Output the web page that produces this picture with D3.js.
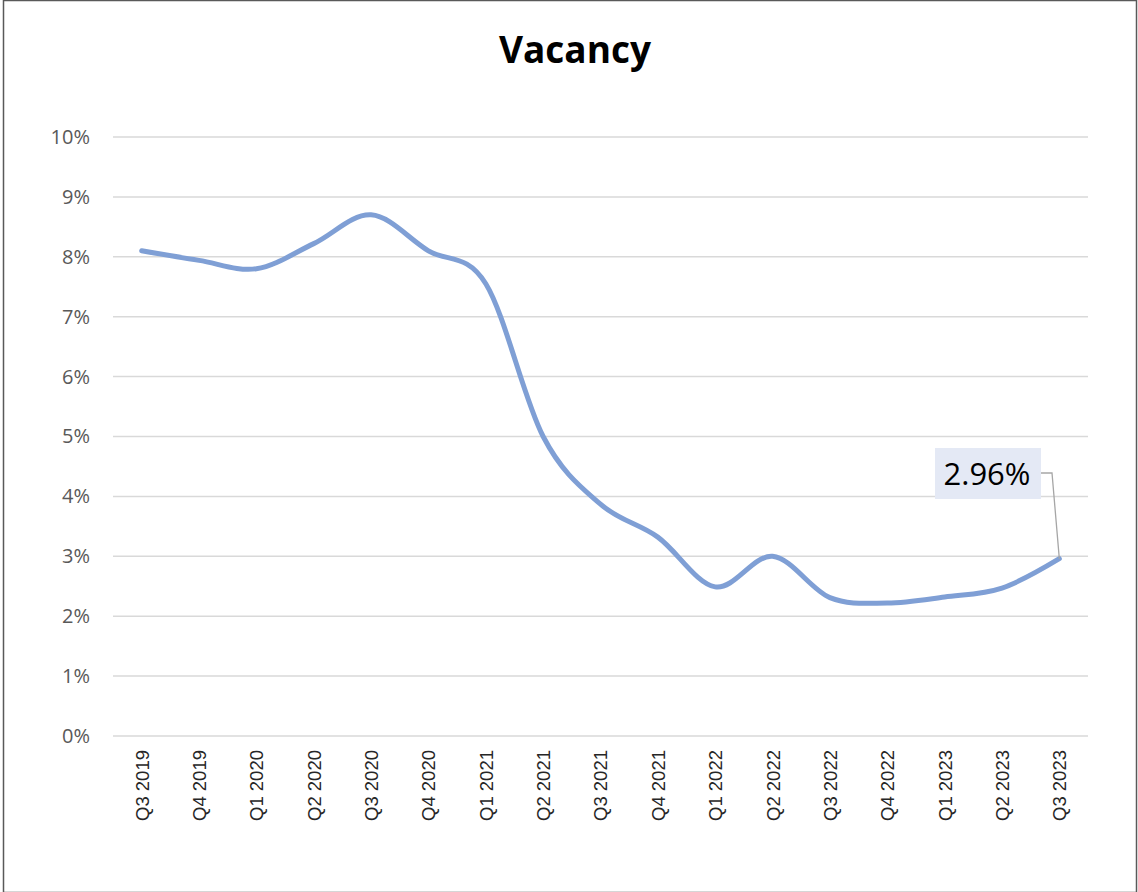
<!DOCTYPE html>
<html>
<head>
<meta charset="utf-8">
<script src="https://cdn.jsdelivr.net/npm/d3@7"></script>
<style>
  body { margin: 0; background: #fff; }
  svg { display: block; font-family: "Open Sans", sans-serif; }
</style>
</head>
<body>
<div id="chart"></div>
<script>
// quarters on the x axis
const quarters = ["Q3 2019","Q4 2019","Q1 2020","Q2 2020","Q3 2020","Q4 2020",
  "Q1 2021","Q2 2021","Q3 2021","Q4 2021","Q1 2022","Q2 2022","Q3 2022",
  "Q4 2022","Q1 2023","Q2 2023","Q3 2023"];
// vacancy rate, in %
const vacancy = [8.1, 7.94, 7.8, 8.22, 8.7, 8.1, 7.55, 5.0, 3.87, 3.32, 2.49,
  3.0, 2.31, 2.22, 2.32, 2.47, 2.96];
const yTicks = [0,1,2,3,4,5,6,7,8,9,10];
const calloutText = "2.96%";

const width = 1138, height = 892;

const svg = d3.select("#chart").append("svg")
  .attr("width", width)
  .attr("height", height);

// outer frame
svg.append("rect")
  .attr("x", 3.5).attr("y", 0.5)
  .attr("width", 1133).attr("height", 892)
  .attr("fill", "none")
  .attr("stroke", "#595959")
  .attr("stroke-width", 1.5);

svg.append("text")
  .attr("x", 575).attr("y", 63)
  .attr("text-anchor", "middle")
  .attr("font-size", 37)
  .attr("font-weight", "bold")
  .attr("fill", "#000")
  .text("Vacancy");

const x = d3.scalePoint()
  .domain(quarters)
  .range([113, 1088])
  .padding(0.5);

const y = d3.scaleLinear()
  .domain([0, 10])
  .range([736, 137]);

// gridlines
svg.append("g")
  .selectAll("line")
  .data(yTicks)
  .join("line")
  .attr("x1", 113).attr("x2", 1088)
  .attr("y1", d => y(d)).attr("y2", d => y(d))
  .attr("stroke", "#d9d9d9")
  .attr("stroke-width", 1.5);

const yAxis = svg.append("g")
  .attr("transform", "translate(90,0)")
  .call(d3.axisLeft(y).tickValues(yTicks).tickSize(0).tickPadding(0).tickFormat(d => d + "%"));
yAxis.select(".domain").remove();
yAxis.selectAll("text")
  .attr("font-family", "Open Sans")
  .attr("font-size", 20)
  .attr("fill", "#595959");

const xAxis = svg.append("g")
  .attr("transform", "translate(0,736)")
  .call(d3.axisBottom(x).tickSize(0));
xAxis.select(".domain").remove();
xAxis.selectAll("text")
  .attr("font-family", "Liberation Sans, Arial, sans-serif")
  .attr("font-size", 18.5)
  .attr("fill", "#262626")
  .attr("text-anchor", "end")
  .attr("transform", "rotate(-90)")
  .attr("x", -14)
  .attr("y", 0)
  .attr("dy", "0.35em");

const line = d3.line()
  .x((d, i) => x(quarters[i]))
  .y(d => y(d))
  .curve(d3.curveCardinal.tension(0));

svg.append("path")
  .datum(vacancy)
  .attr("d", line)
  .attr("fill", "none")
  .attr("stroke", "#7f9fd5")
  .attr("stroke-width", 5)
  .attr("stroke-linecap", "round");

// data label for the last point
const last = vacancy.length - 1;
const px = x(quarters[last]), py = y(vacancy[last]);
svg.append("polyline")
  .attr("points", `1041,473 1052,473 ${px},${py}`)
  .attr("fill", "none")
  .attr("stroke", "#a6a6a6")
  .attr("stroke-width", 1.3);

svg.append("rect")
  .attr("x", 935).attr("y", 448)
  .attr("width", 106).attr("height", 51)
  .attr("fill", "#e4e9f5");

svg.append("text")
  .attr("x", 987).attr("y", 485)
  .attr("text-anchor", "middle")
  .attr("font-size", 31)
  .attr("fill", "#000")
  .text(calloutText);
</script>
</body>
</html>
